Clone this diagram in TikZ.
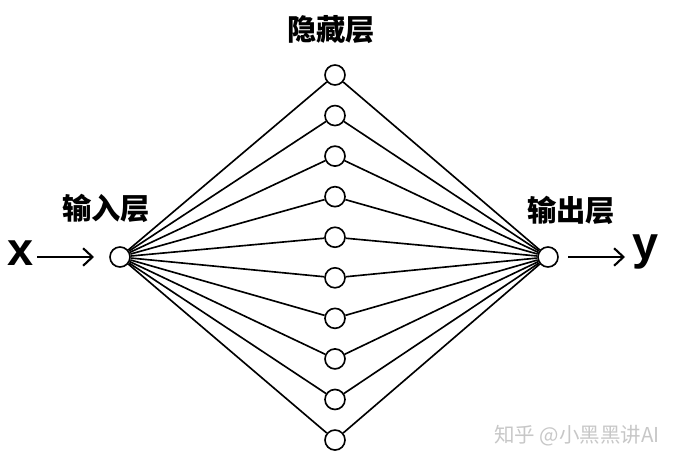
\documentclass[tikz,border=0pt]{standalone}
\usepackage{fontspec}
\setmainfont{Liberation Sans}
\newfontfamily\cjk{Noto Sans CJK SC}
\usetikzlibrary{arrows.meta}

\tikzset{
  neuron/.style={circle,draw,line width=1.4pt,fill=white,minimum size=0.6cm,inner sep=0pt},
  link/.style={line width=1.4pt},
  layername/.style={font=\cjk\bfseries\fontsize{25}{28}\selectfont},
  varname/.style={font=\bfseries\fontsize{40}{44}\selectfont},
}

\begin{document}
\begin{tikzpicture}[x=0.03cm,y=-0.03cm,>={Straight Barb[length=8pt,width=15pt]}]
  \useasboundingbox (0,0) rectangle (677,461);
  % layers
  \node[neuron] (in) at (120,257) {};
  \node[neuron] (out) at (548,257) {};
  \foreach \i in {0,...,9}
    \node[neuron] (h\i) at (335,{75+\i*40.56}) {};
  \foreach \i in {0,...,9} {
    \draw[link] (in) -- (h\i);
    \draw[link] (h\i) -- (out);
  }
  % labels
  \node[layername] (lin) at (106,208) {输入层};
  \node[layername] (lhid) at (331,30) {隐藏层};
  \node[layername] (lout) at (571,210) {输出层};
  \node[varname] (x) at (21,253) {x};
  \node[varname] (y) at (646,252) {y};
  \coordinate (xa) at (37,257);
  \coordinate (xb) at (94,257);
  \coordinate (ya) at (568,257);
  \coordinate (yb) at (625,257);
  \draw[->,line width=1.8pt] (xa) -- (xb);
  \draw[->,line width=1.8pt] (ya) -- (yb);
  \node[font=\cjk\fontsize{17.5}{20}\selectfont,text=black!22] (mark) at (577,436) {知乎 @小黑黑讲AI};
\end{tikzpicture}
\end{document}
